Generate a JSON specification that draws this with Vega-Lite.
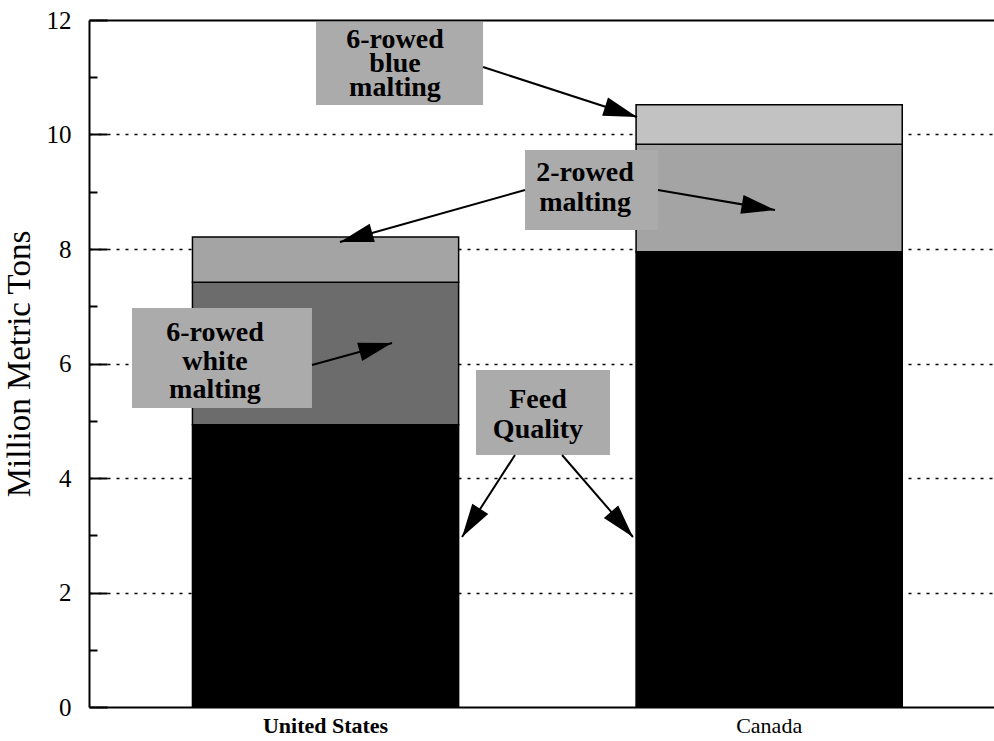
{
  "$schema": "https://vega.github.io/schema/vega-lite/v6.json",
  "width": 905,
  "height": 687,
  "autosize": {"type": "none"},
  "padding": {"left": 89, "top": 20, "right": 0, "bottom": 34},
  "background": "white",
  "config": {"view": {"stroke": null}, "font": "Liberation Serif"},
  "datasets": {
    "bars": [
      {"country": "United States", "variety": "Feed Quality", "tons": 4.93},
      {"country": "United States", "variety": "6-rowed white malting", "tons": 2.49},
      {"country": "United States", "variety": "2-rowed malting", "tons": 0.79},
      {"country": "Canada", "variety": "Feed Quality", "tons": 7.95},
      {"country": "Canada", "variety": "2-rowed malting", "tons": 1.88},
      {"country": "Canada", "variety": "6-rowed blue malting", "tons": 0.69}
    ],
    "boxes": [
      {"note": "6-rowed blue malting", "x1": 0.2508, "x2": 0.4354, "y1": 11.965, "y2": 10.515},
      {"note": "2-rowed malting", "x1": 0.4818, "x2": 0.6287, "y1": 9.729, "y2": 8.332},
      {"note": "6-rowed white malting", "x1": 0.0475, "x2": 0.2464, "y1": 6.969, "y2": 5.223},
      {"note": "Feed Quality", "x1": 0.4276, "x2": 0.5757, "y1": 5.886, "y2": 4.402}
    ],
    "labels": [
      {"text": "6-rowed", "x": 0.3381, "y": 11.651},
      {"text": "blue", "x": 0.3381, "y": 11.231},
      {"text": "malting", "x": 0.3381, "y": 10.812},
      {"text": "2-rowed", "x": 0.5481, "y": 9.328},
      {"text": "malting", "x": 0.5481, "y": 8.803},
      {"text": "6-rowed", "x": 0.1392, "y": 6.533},
      {"text": "white", "x": 0.1392, "y": 6.026},
      {"text": "malting", "x": 0.1392, "y": 5.537},
      {"text": "Feed", "x": 0.4961, "y": 5.362},
      {"text": "Quality", "x": 0.4961, "y": 4.838}
    ],
    "arrows": [
      {"x": 0.4354, "y": 11.179, "x2": 0.6055, "y2": 10.306, "angle": 18.0},
      {"x": 0.4818, "y": 9.031, "x2": 0.2773, "y2": 8.122, "angle": 164.3},
      {"x": 0.6287, "y": 9.031, "x2": 0.758, "y2": 8.681, "angle": 9.7},
      {"x": 0.2464, "y": 5.974, "x2": 0.3348, "y2": 6.358, "angle": -15.4},
      {"x": 0.4707, "y": 4.402, "x2": 0.4122, "y2": 2.969, "angle": 122.9},
      {"x": 0.5227, "y": 4.402, "x2": 0.6011, "y2": 2.969, "angle": 49.1}
    ]
  },
  "resolve": {"scale": {"x": "independent"}, "axis": {"x": "independent", "y": "independent"}},
  "layer": [
    {
      "data": {"name": "bars"},
      "transform": [
        {"calculate": "indexof(['Feed Quality','6-rowed white malting','2-rowed malting','6-rowed blue malting'], datum.variety)", "as": "rank"}
      ],
      "mark": {"type": "bar", "stroke": "black", "strokeWidth": 1.5},
      "encoding": {
        "x": {
          "field": "country", "type": "nominal", "sort": ["United States", "Canada"],
          "scale": {"paddingInner": 0.4, "paddingOuter": 0.22, "align": 0.53},
          "axis": {
            "title": null, "labelAngle": 0, "labelFontSize": 22, "labelColor": "black", "labelPadding": 8,
            "labelFont": "Liberation Serif",
            "labelFontWeight": {"condition": {"test": "datum.value == 'United States'", "value": "bold"}, "value": "normal"},
            "ticks": false, "domainColor": "black", "domainWidth": 2, "grid": false
          }
        },
        "y": {
          "field": "tons", "type": "quantitative", "stack": "zero",
          "scale": {"domain": [0, 12], "nice": false},
          "axis": {
            "values": [0, 1, 2, 3, 4, 5, 6, 7, 8, 9, 10, 11, 12],
            "title": "Million Metric Tons", "titleFont": "Liberation Serif", "titleFontSize": 33,
            "titleFontWeight": "normal", "titleColor": "black", "titlePadding": 10,
            "labelExpr": "datum.value % 2 == 0 ? datum.label : ''",
            "labelFont": "Liberation Serif", "labelFontSize": 25, "labelColor": "black", "labelPadding": 36,
            "tickSize": {"condition": {"test": "datum.value % 2 == 1", "value": -8}, "value": -18},
            "tickColor": "black", "tickWidth": 2,
            "domainColor": "black", "domainWidth": 2,
            "grid": true, "gridColor": "black", "gridDash": [3, 6], "gridWidth": 1.5,
            "gridOpacity": {"condition": {"test": "datum.value % 2 == 1 || datum.value == 12 || datum.value == 0", "value": 0}, "value": 1}
          }
        },
        "color": {
          "field": "variety", "type": "nominal", "legend": null,
          "scale": {
            "domain": ["Feed Quality", "6-rowed white malting", "2-rowed malting", "6-rowed blue malting"],
            "range": ["#000000", "#6c6c6c", "#a4a4a4", "#c2c2c2"]
          }
        },
        "order": {"field": "rank", "type": "quantitative", "sort": "ascending"}
      }
    },
    {
      "data": {"name": "boxes"},
      "mark": {"type": "rect", "fill": "#ababab"},
      "encoding": {
        "x": {"field": "x1", "type": "quantitative", "scale": {"domain": [0, 1], "nice": false},
          "axis": {"orient": "top", "labels": false, "ticks": false, "title": null, "grid": false, "domainColor": "black", "domainWidth": 2}},
        "x2": {"field": "x2"},
        "y": {"field": "y1", "type": "quantitative", "scale": {"domain": [0, 12], "nice": false}, "axis": null},
        "y2": {"field": "y2"}
      }
    },
    {
      "data": {"name": "arrows"},
      "mark": {"type": "rule", "stroke": "black", "strokeWidth": 2},
      "encoding": {
        "x": {"field": "x", "type": "quantitative", "scale": {"domain": [0, 1], "nice": false}, "axis": null},
        "x2": {"field": "x2"},
        "y": {"field": "y", "type": "quantitative", "scale": {"domain": [0, 12], "nice": false}, "axis": null},
        "y2": {"field": "y2"}
      }
    },
    {
      "data": {"name": "arrows"},
      "mark": {"type": "point", "shape": "M0,0L-3,-0.85L-3,0.85Z", "filled": true, "color": "black", "opacity": 1, "size": 500},
      "encoding": {
        "x": {"field": "x2", "type": "quantitative", "scale": {"domain": [0, 1], "nice": false}, "axis": null},
        "y": {"field": "y2", "type": "quantitative", "scale": {"domain": [0, 12], "nice": false}, "axis": null},
        "angle": {"field": "angle", "type": "quantitative", "scale": null}
      }
    },
    {
      "data": {"name": "labels"},
      "mark": {"type": "text", "font": "Liberation Serif", "fontSize": 28, "fontWeight": "bold", "align": "center", "baseline": "middle", "color": "black"},
      "encoding": {
        "x": {"field": "x", "type": "quantitative", "scale": {"domain": [0, 1], "nice": false}, "axis": null},
        "y": {"field": "y", "type": "quantitative", "scale": {"domain": [0, 12], "nice": false}, "axis": null},
        "text": {"field": "text", "type": "nominal"}
      }
    }
  ]
}
